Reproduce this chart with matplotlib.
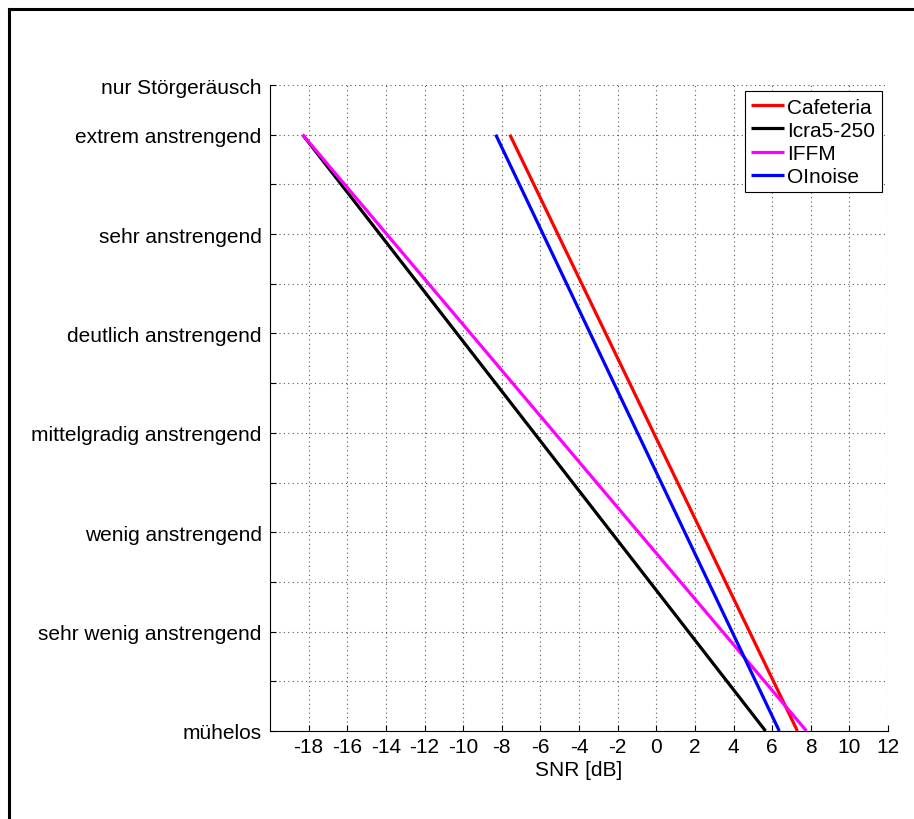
import matplotlib
matplotlib.use("Agg")
import matplotlib.pyplot as plt
from matplotlib.lines import Line2D

plt.rcParams['font.family'] = ['Liberation Sans', 'DejaVu Sans']

# Effort scale (categorical, numeric positions 1..14)
scale_pos = [1, 3, 5, 7, 9, 11, 13, 14]
scale_labels = ["mühelos", "sehr wenig anstrengend", "wenig anstrengend",
                "mittelgradig anstrengend", "deutlich anstrengend",
                "sehr anstrengend", "extrem anstrengend", "nur Störgeräusch"]

# Fitted effort functions: SNR at "extrem anstrengend" (13) and "mühelos" (1)
noise_names = ["Cafeteria", "Icra5-250", "IFFM", "OInoise"]
noise_colors = ["#ff0000", "#000000", "#ff00ff", "#0000ff"]
effort_levels = [13, 1]
snr_cafeteria = [-7.58, 7.31]
snr_icra = [-18.31, 5.66]
snr_iffm = [-18.31, 7.78]
snr_olnoise = [-8.31, 6.37]

x_ticks = list(range(-18, 13, 2))

FS = 15

fig = plt.figure(figsize=(9.14, 8.2), dpi=100)
ax = fig.add_axes([270 / 914, 1 - 732 / 820, 618 / 914, 646 / 820])

for snr, name, col in zip([snr_cafeteria, snr_icra, snr_iffm, snr_olnoise],
                          noise_names, noise_colors):
    ax.plot(snr, effort_levels, color=col, lw=2.3, label=name,
            solid_capstyle='butt')

ax.set_xlim(-20, 12)
ax.set_ylim(1, 14)
ax.set_xticks(x_ticks)
ax.set_xticklabels([str(v) for v in x_ticks])
ax.set_yticks(range(1, 15))
ylabels = []
for v in range(1, 15):
    ylabels.append(scale_labels[scale_pos.index(v)] if v in scale_pos else "")
ax.set_yticklabels(ylabels)

ax.tick_params(axis='both', direction='in', length=4, width=0.8,
               labelsize=FS, colors='black')
ax.tick_params(axis='x', pad=4)
ax.tick_params(axis='y', pad=6)
ax.grid(True, linestyle=(0, (1, 3)), color='0.35', lw=0.8)
ax.spines['top'].set_visible(False)
ax.spines['right'].set_visible(False)
ax.set_xlabel("SNR [dB]", fontsize=FS, labelpad=3)

leg = ax.legend(loc='upper right', fontsize=FS, fancybox=False, framealpha=1,
                edgecolor='black', borderaxespad=0.3, handlelength=1.6,
                handletextpad=0.15, labelspacing=0.2, borderpad=0.3)
leg.get_frame().set_linewidth(0.8)

# Outer frame of the figure panel
fig.add_artist(Line2D([9 / 914, 1], [1 - 10 / 820, 1 - 10 / 820],
                      transform=fig.transFigure, color='black', lw=2.2))
fig.add_artist(Line2D([9 / 914, 9 / 914], [0, 1 - 10 / 820],
                      transform=fig.transFigure, color='black', lw=2.2))

fig.savefig("out.png", dpi=100)
